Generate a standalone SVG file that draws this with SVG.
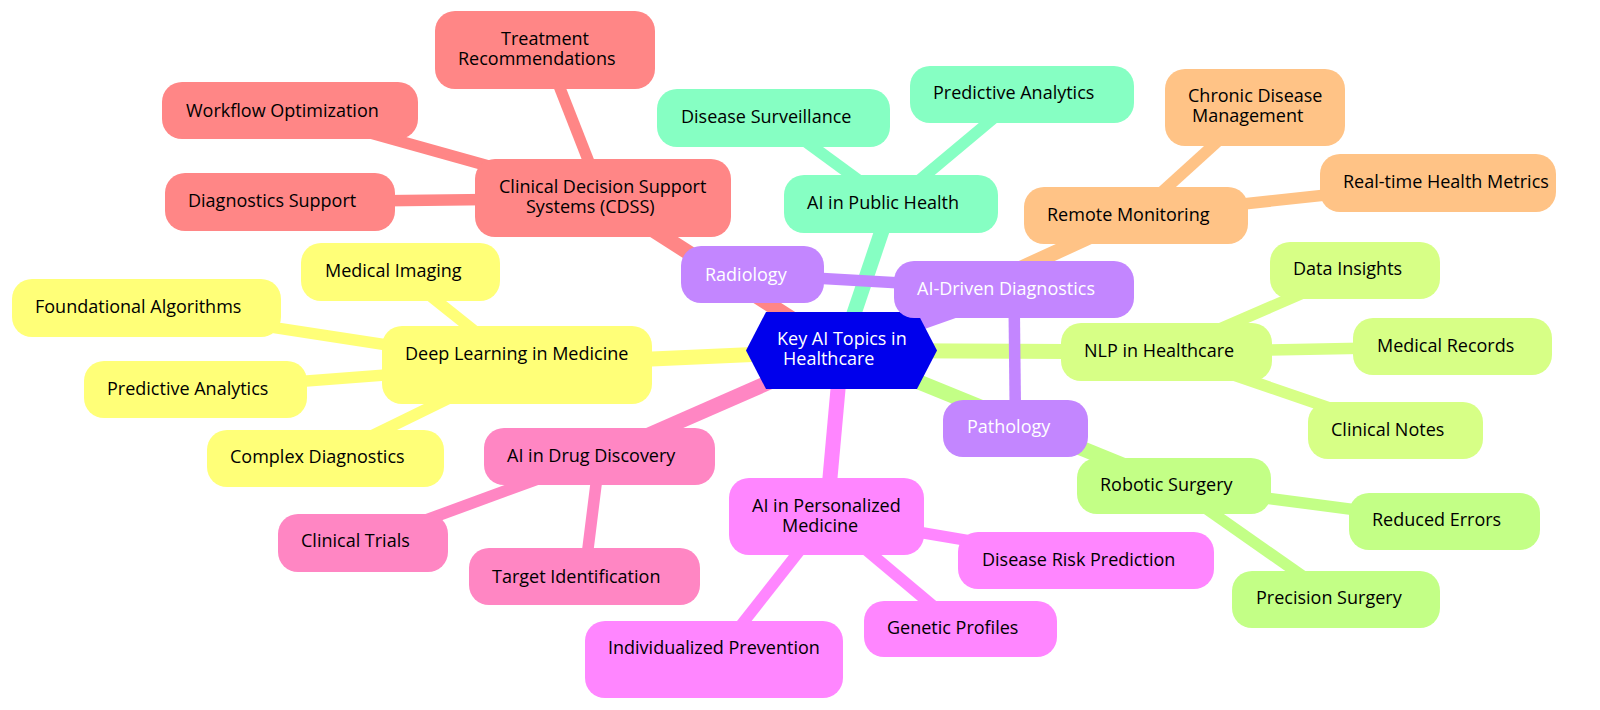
<svg xmlns="http://www.w3.org/2000/svg" width="1600" height="710" viewBox="0 0 1600 710">
<style>
text{font-family:"Open Sans","Noto Sans","DejaVu Sans",sans-serif;font-size:18px;fill:#000}
.lt{fill:#ffffff}
.e0{stroke-width:15;fill:none;stroke-linecap:butt}
.e1{stroke-width:11.5;fill:none;stroke-linecap:butt}
.red{fill:#FF8686}.sred{stroke:#FF8686}
.yel{fill:#FFFF78}.syel{stroke:#FFFF78}
.pnk{fill:#FF86C3}.spnk{stroke:#FF86C3}
.mag{fill:#FF86FF}.smag{stroke:#FF86FF}
.tea{fill:#86FFC3}.stea{stroke:#86FFC3}
.orn{fill:#FFC386}.sorn{stroke:#FFC386}
.pur{fill:#C386FF}.spur{stroke:#C386FF}
.lim{fill:#D7FF86}.slim{stroke:#D7FF86}
.grn{fill:#C3FF86}.sgrn{stroke:#C3FF86}
</style>
<rect width="1600" height="710" fill="#ffffff"/>
<g id="connectors">
<line class="e0 sred" x1="841.5" y1="350.5" x2="603" y2="198"/>
<line class="e0 stea" x1="841.5" y1="350.5" x2="891" y2="204"/>
<line class="e0 sorn" x1="841.5" y1="350.5" x2="1136" y2="215.5"/>
<line class="e0 spur" x1="841.5" y1="350.5" x2="1014" y2="289.5"/>
<line class="e0 slim" x1="841.5" y1="350.5" x2="1166.5" y2="352"/>
<line class="e0 sgrn" x1="841.5" y1="350.5" x2="1174" y2="486"/>
<line class="e0 smag" x1="841.5" y1="350.5" x2="826.5" y2="516.5"/>
<line class="e0 spnk" x1="841.5" y1="350.5" x2="599.5" y2="456.5"/>
<line class="e0 syel" x1="841.5" y1="350.5" x2="517" y2="365"/>
<line class="e1 sred" x1="603" y1="198" x2="545" y2="50"/>
<line class="e1 sred" x1="603" y1="198" x2="290" y2="110.5"/>
<line class="e1 sred" x1="603" y1="198" x2="280" y2="202"/>
<line class="e1 syel" x1="517" y1="365" x2="400.5" y2="272"/>
<line class="e1 syel" x1="517" y1="365" x2="146.5" y2="308"/>
<line class="e1 syel" x1="517" y1="365" x2="195.5" y2="389.5"/>
<line class="e1 syel" x1="517" y1="365" x2="325.5" y2="458.5"/>
<line class="e1 spnk" x1="599.5" y1="456.5" x2="363" y2="543"/>
<line class="e1 spnk" x1="599.5" y1="456.5" x2="584.5" y2="576.5"/>
<line class="e1 smag" x1="826.5" y1="516.5" x2="714" y2="659.5"/>
<line class="e1 smag" x1="826.5" y1="516.5" x2="960.5" y2="629"/>
<line class="e1 smag" x1="826.5" y1="516.5" x2="1086" y2="560.5"/>
<line class="e1 stea" x1="891" y1="204" x2="773.5" y2="118"/>
<line class="e1 stea" x1="891" y1="204" x2="1022" y2="94.5"/>
<line class="e1 sorn" x1="1136" y1="215.5" x2="1255" y2="107.5"/>
<line class="e1 sorn" x1="1136" y1="215.5" x2="1438" y2="183"/>
<line class="e1 spur" x1="1014" y1="289.5" x2="752.5" y2="274.5"/>
<line class="e1 spur" x1="1014" y1="289.5" x2="1015.5" y2="428.5"/>
<line class="e1 slim" x1="1166.5" y1="352" x2="1355" y2="270.5"/>
<line class="e1 slim" x1="1166.5" y1="352" x2="1452.5" y2="346.5"/>
<line class="e1 slim" x1="1166.5" y1="352" x2="1395.5" y2="430.5"/>
<line class="e1 sgrn" x1="1174" y1="486" x2="1444.5" y2="521.5"/>
<line class="e1 sgrn" x1="1174" y1="486" x2="1336" y2="599.5"/>
</g>
<g id="root">
<polygon points="746,350.5 766,312 917,312 937,350.5 917,389 766,389" fill="#0000EC"/>
<text class="lt" x="777" y="345">Key AI Topics in<tspan x="783" dy="20">Healthcare</tspan></text>
</g>
<g id="cdss"><rect class="red" x="475" y="159" width="256" height="78" rx="20"/><text x="499" y="193">Clinical Decision Support<tspan x="526" dy="20">Systems (CDSS)</tspan></text></g>
<g id="treatment"><rect class="red" x="435" y="11" width="220" height="78" rx="20"/><text x="501" y="45">Treatment<tspan x="458" dy="20">Recommendations</tspan></text></g>
<g id="workflow"><rect class="red" x="162" y="82" width="256" height="57" rx="20"/><text x="186" y="117">Workflow Optimization</text></g>
<g id="diagsupport"><rect class="red" x="165" y="173" width="230" height="58" rx="20"/><text x="188" y="207">Diagnostics Support</text></g>
<g id="deeplearning"><rect class="yel" x="382" y="326" width="270" height="78" rx="20"/><text x="405" y="360">Deep Learning in Medicine</text></g>
<g id="medimaging"><rect class="yel" x="301" y="243" width="199" height="58" rx="20"/><text x="325" y="277">Medical Imaging</text></g>
<g id="foundational"><rect class="yel" x="12" y="279" width="269" height="58" rx="20"/><text x="35" y="313">Foundational Algorithms</text></g>
<g id="predictive-dl"><rect class="yel" x="84" y="361" width="223" height="57" rx="20"/><text x="107" y="395">Predictive Analytics</text></g>
<g id="complexdiag"><rect class="yel" x="207" y="430" width="237" height="57" rx="20"/><text x="230" y="463">Complex Diagnostics</text></g>
<g id="drugdiscovery"><rect class="pnk" x="484" y="428" width="231" height="57" rx="20"/><text x="507" y="462">AI in Drug Discovery</text></g>
<g id="clinicaltrials"><rect class="pnk" x="278" y="514" width="170" height="58" rx="20"/><text x="301" y="547">Clinical Trials</text></g>
<g id="targetid"><rect class="pnk" x="469" y="548" width="231" height="57" rx="20"/><text x="492" y="583">Target Identification</text></g>
<g id="personalized"><rect class="mag" x="729" y="478" width="195" height="77" rx="20"/><text x="752" y="512">AI in Personalized<tspan x="782" dy="20">Medicine</tspan></text></g>
<g id="prevention"><rect class="mag" x="585" y="621" width="258" height="77" rx="20"/><text x="608" y="654">Individualized Prevention</text></g>
<g id="genetic"><rect class="mag" x="864" y="601" width="193" height="56" rx="20"/><text x="887" y="634">Genetic Profiles</text></g>
<g id="diseaserisk"><rect class="mag" x="958" y="532" width="256" height="57" rx="20"/><text x="982" y="566">Disease Risk Prediction</text></g>
<g id="publichealth"><rect class="tea" x="784" y="175" width="214" height="58" rx="20"/><text x="807" y="209">AI in Public Health</text></g>
<g id="surveillance"><rect class="tea" x="657" y="89" width="233" height="58" rx="20"/><text x="681" y="123">Disease Surveillance</text></g>
<g id="predictive-ph"><rect class="tea" x="910" y="66" width="224" height="57" rx="20"/><text x="933" y="99">Predictive Analytics</text></g>
<g id="remote"><rect class="orn" x="1024" y="187" width="224" height="57" rx="20"/><text x="1047" y="221">Remote Monitoring</text></g>
<g id="chronic"><rect class="orn" x="1165" y="69" width="180" height="77" rx="20"/><text x="1188" y="102">Chronic Disease<tspan x="1192" dy="20">Management</tspan></text></g>
<g id="realtime"><rect class="orn" x="1320" y="154" width="236" height="58" rx="20"/><text x="1343" y="188">Real-time Health Metrics</text></g>
<g id="aidriven"><rect class="pur" x="894" y="261" width="240" height="57" rx="20"/><text class="lt" x="917" y="295">AI-Driven Diagnostics</text></g>
<g id="radiology"><rect class="pur" x="681" y="246" width="143" height="57" rx="20"/><text class="lt" x="705" y="281">Radiology</text></g>
<g id="pathology"><rect class="pur" x="943" y="400" width="145" height="57" rx="20"/><text class="lt" x="967" y="433">Pathology</text></g>
<g id="nlp"><rect class="lim" x="1061" y="323" width="211" height="58" rx="20"/><text x="1084" y="357">NLP in Healthcare</text></g>
<g id="datainsights"><rect class="lim" x="1270" y="242" width="170" height="57" rx="20"/><text x="1293" y="275">Data Insights</text></g>
<g id="medrecords"><rect class="lim" x="1353" y="318" width="199" height="57" rx="20"/><text x="1377" y="352">Medical Records</text></g>
<g id="clinicalnotes"><rect class="lim" x="1308" y="402" width="175" height="57" rx="20"/><text x="1331" y="436">Clinical Notes</text></g>
<g id="robotic"><rect class="grn" x="1077" y="458" width="194" height="56" rx="20"/><text x="1100" y="491">Robotic Surgery</text></g>
<g id="reducederrors"><rect class="grn" x="1349" y="493" width="191" height="57" rx="20"/><text x="1372" y="526">Reduced Errors</text></g>
<g id="precision"><rect class="grn" x="1232" y="571" width="208" height="57" rx="20"/><text x="1256" y="604">Precision Surgery</text></g>
</svg>
